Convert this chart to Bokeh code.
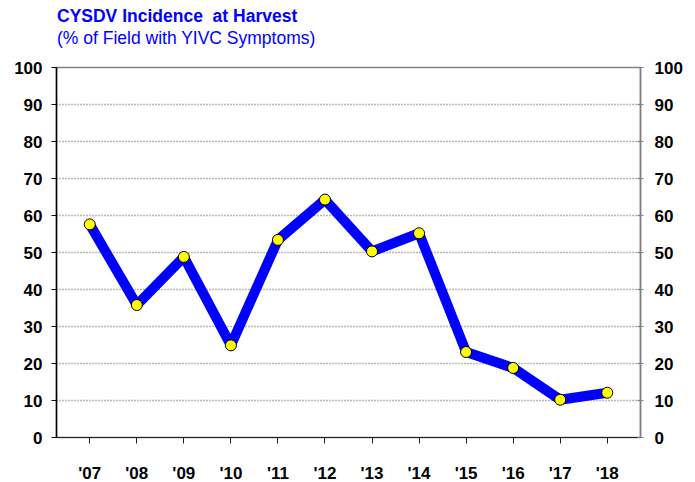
from bokeh.plotting import figure
from bokeh.models import FixedTicker, LinearAxis, Range1d, Div
from bokeh.layouts import column
from bokeh.embed import file_html
from bokeh.resources import INLINE

years = ["'07", "'08", "'09", "'10", "'11", "'12", "'13", "'14", "'15", "'16", "'17", "'18"]
incidence = [57.6, 35.8, 48.8, 24.9, 53.4, 64.3, 50.3, 55.2, 23.1, 18.8, 10.2, 12.1]
y_ticks = [0, 10, 20, 30, 40, 50, 60, 70, 80, 90, 100]
title_text = "CYSDV Incidence&nbsp; at Harvest"
subtitle_text = "(% of Field with YIVC Symptoms)"

xs = list(range(len(years)))
FONT = "Liberation Sans"
BLUE = "#0000FF"
HEAD = 50

header = Div(
    text=('<div style="font-family:\'Liberation Sans\',Arial,sans-serif;color:#0000FF;'
          'font-size:17.5px;line-height:21.5px;padding:6px 0 0 57px;white-space:nowrap;">'
          '<b>' + title_text + '</b><br>' + subtitle_text + '</div>'),
    width=695, height=HEAD, margin=0)

p = figure(frame_width=584, frame_height=370,
           min_border_left=56, min_border_right=55, min_border_top=67 - HEAD, min_border_bottom=45,
           x_range=Range1d(-0.707, len(years) - 1 + 0.707), y_range=Range1d(0, 100),
           output_backend="svg", toolbar_location=None, margin=0)

p.outline_line_color = "#808080"
p.outline_line_width = 1.5
p.background_fill_color = "white"
p.border_fill_color = "white"

p.xgrid.visible = False
p.ygrid.ticker = FixedTicker(ticks=y_ticks)
p.ygrid.grid_line_color = "#707070"
p.ygrid.grid_line_dash = "1 2"
p.ygrid.grid_line_width = 1.3

# bottom axis
xa = p.xaxis[0]
xa.ticker = FixedTicker(ticks=xs)
xa.major_label_overrides = {i: y for i, y in enumerate(years)}
xa.major_tick_out = 6
xa.major_tick_in = 0
xa.minor_tick_line_color = None
xa.axis_line_color = "#222222"
xa.major_tick_line_color = "#222222"
xa.major_label_standoff = 20
xa.major_label_text_font = FONT
xa.major_label_text_font_style = "bold"
xa.major_label_text_font_size = "17px"
xa.major_label_text_color = "black"

# left axis
ya = p.yaxis[0]
ya.ticker = FixedTicker(ticks=y_ticks)
ya.major_tick_out = 5
ya.major_tick_in = 0
ya.minor_tick_line_color = None
ya.axis_line_color = "black"
ya.axis_line_width = 1.5
ya.major_label_standoff = 9
ya.major_label_text_font = FONT
ya.major_label_text_font_style = "bold"
ya.major_label_text_font_size = "17px"
ya.major_label_text_color = "black"

# right axis
ra = LinearAxis(ticker=FixedTicker(ticks=y_ticks))
ra.major_tick_out = 3
ra.major_tick_in = 3
ra.minor_tick_line_color = None
ra.axis_line_color = "#808080"
ra.axis_line_width = 1.5
ra.major_tick_line_color = "#808080"
ra.major_label_standoff = 11
ra.major_label_text_font = FONT
ra.major_label_text_font_style = "bold"
ra.major_label_text_font_size = "17px"
ra.major_label_text_color = "black"
p.add_layout(ra, "right")

p.line(xs, incidence, line_color=BLUE, line_width=10, line_join="round")
p.scatter(xs, incidence, size=11, fill_color="#FFFF00", line_color="black", line_width=1)

page = column(header, p, spacing=0, margin=0)
open("out.html", "w").write(file_html(page, INLINE))
